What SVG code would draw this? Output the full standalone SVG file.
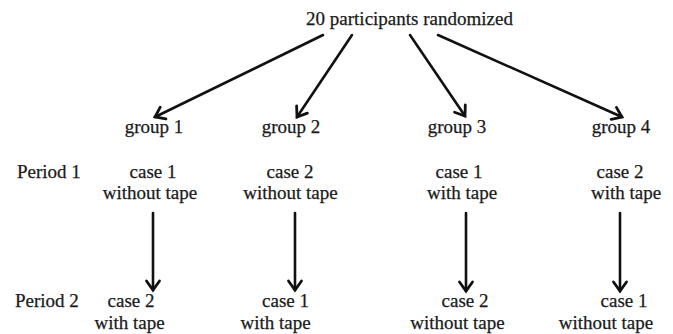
<svg xmlns="http://www.w3.org/2000/svg" width="673" height="334" viewBox="0 0 673 334">
  <style>
    text { font-family: "Liberation Serif", "Times New Roman", serif; font-size: 19px; fill: #1a1a1a; stroke: #1a1a1a; stroke-width: 0.25; }
    .c { text-anchor: middle; }
    .arrow { stroke: #111; stroke-width: 2.6; fill: none; stroke-linecap: round; marker-end: url(#head); }
  </style>
  <defs>
    <marker id="head" markerUnits="userSpaceOnUse" markerWidth="20" markerHeight="20" viewBox="-12 -10 16 20" refX="0" refY="0" orient="auto">
      <path d="M-9,-6.5 L0,0 L-9,6.5" fill="none" stroke="#111" stroke-width="2.8" stroke-linecap="round" stroke-linejoin="miter"/>
    </marker>
  </defs>
  <rect width="673" height="334" fill="#ffffff"/>

  <g id="root"><text class="c" x="409.5" y="25">20 participants randomized</text></g>

  <g id="period-labels">
    <text x="17" y="178">Period 1</text>
    <text x="15" y="307">Period 2</text>
  </g>

  <g id="group1">
    <text class="c" x="154" y="133">group 1</text>
    <text class="c" x="153" y="178">case 1</text>
    <text class="c" x="150" y="198.5">without tape</text>
    <text class="c" x="131" y="307">case 2</text>
    <text class="c" x="129.5" y="329">with tape</text>
  </g>
  <g id="group2">
    <text class="c" x="291" y="133">group 2</text>
    <text class="c" x="290" y="178">case 2</text>
    <text class="c" x="290.5" y="198.5">without tape</text>
    <text class="c" x="285.5" y="307">case 1</text>
    <text class="c" x="275.5" y="329">with tape</text>
  </g>
  <g id="group3">
    <text class="c" x="457" y="133">group 3</text>
    <text class="c" x="459" y="178">case 1</text>
    <text class="c" x="462" y="198.5">with tape</text>
    <text class="c" x="465" y="307">case 2</text>
    <text class="c" x="457.5" y="329">without tape</text>
  </g>
  <g id="group4">
    <text class="c" x="621" y="133">group 4</text>
    <text class="c" x="620" y="178">case 2</text>
    <text class="c" x="626" y="198.5">with tape</text>
    <text class="c" x="624" y="307">case 1</text>
    <text class="c" x="606" y="329">without tape</text>
  </g>

  <g id="connectors">
    <line class="arrow" x1="323" y1="35" x2="155" y2="117"/>
    <line class="arrow" x1="352" y1="35" x2="297" y2="117"/>
    <line class="arrow" x1="410" y1="35" x2="465" y2="116"/>
    <line class="arrow" x1="438" y1="35" x2="622" y2="117"/>
    <line class="arrow" x1="153" y1="213" x2="153" y2="290"/>
    <line class="arrow" x1="295" y1="213" x2="295" y2="290"/>
    <line class="arrow" x1="466" y1="213" x2="466" y2="291"/>
    <line class="arrow" x1="620" y1="213" x2="620" y2="291"/>
  </g>
</svg>
